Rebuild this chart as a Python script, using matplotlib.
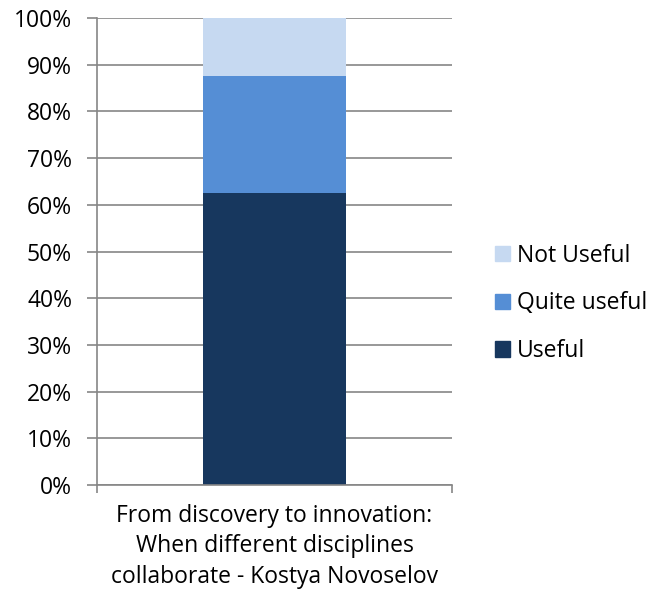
import numpy as np
import matplotlib.pyplot as plt
from matplotlib.patches import Patch

plt.rcParams['font.family'] = ['Open Sans', 'DejaVu Sans']

# data
category = 'From discovery to innovation:\nWhen different disciplines\ncollaborate - Kostya Novoselov'
series = ['Useful', 'Quite useful', 'Not Useful']
values = [62.5, 25.0, 12.5]
colors = ['#17375E', '#558ED5', '#C6D9F1']

FS = 16.5

fig = plt.figure(figsize=(6.52, 5.95), dpi=100)
ax = fig.add_axes([0.1488, 0.1849, 0.5445, 0.7848])

bottom = 0.0
for name, v, c in zip(series, values, colors):
    ax.bar([0], [v], width=0.403, bottom=bottom, color=c, label=name, zorder=2)
    bottom += v

ax.set_xlim(-0.5, 0.5)
ax.set_ylim(0, 100)
ax.set_yticks(np.arange(0, 101, 10))
ax.set_yticklabels(['%d%%' % t for t in range(0, 101, 10)], fontsize=FS)
ax.yaxis.grid(True, color='#868686', lw=1.2, zorder=0)

# category boundaries as x ticks
ax.set_xticks([-0.5, 0.5])
ax.set_xticklabels([])
ax.tick_params(axis='x', length=6, color='#868686', width=1.2)
ax.tick_params(axis='y', length=7, color='#868686', width=1.2, pad=11)
ax.text(0, -4.0, category, ha='center', va='top', fontsize=FS,
        linespacing=1.36, transform=ax.transData)

for s in ['top', 'right']:
    ax.spines[s].set_visible(False)
for s in ['left', 'bottom']:
    ax.spines[s].set_color('#868686')
    ax.spines[s].set_linewidth(1.2)

handles = [Patch(color=c) for c in colors[::-1]]
fig.legend(handles, series[::-1], loc='center left', bbox_to_anchor=(0.759, 0.49),
           frameon=False, fontsize=FS, handlelength=0.65, handleheight=0.65,
           handletextpad=0.3, labelspacing=1.03, borderaxespad=0, borderpad=0)

fig.savefig('out.png', dpi=100)
